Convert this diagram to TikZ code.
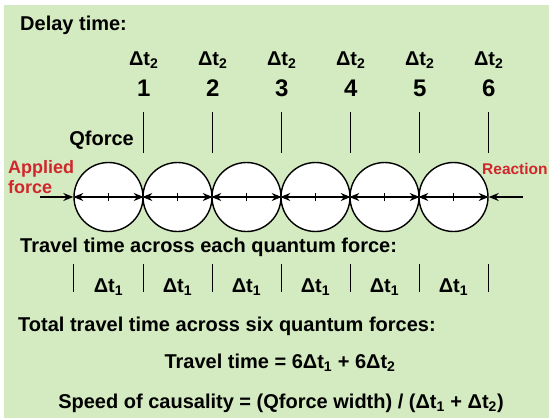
\documentclass[tikz,border=0pt]{standalone}
\usepackage{fontspec}
\setmainfont{Liberation Sans}
\usetikzlibrary{arrows.meta}

\definecolor{bggreen}{RGB}{212,234,192}
\definecolor{forcered}{RGB}{208,38,44}
\newcommand{\dlt}[1]{Δt\textsubscript{#1}}

\begin{document}
\begin{tikzpicture}[
    x=1pt, y=-1pt,
    qf/.style={draw, circle, line width=1.4pt, fill=white, minimum size=69pt, inner sep=0pt},
    arr/.style={->, >={Stealth[length=10pt, width=8pt]}, line width=1.3pt},
    bar/.style={line width=1.1pt},
    lbl/.style={font=\bfseries\fontsize{20}{23}\selectfont, inner sep=0pt},
    dlbl/.style={font=\bfseries\fontsize{20}{23}\selectfont, inner sep=0pt},
    num/.style={font=\bfseries\fontsize{24}{27}\selectfont, inner sep=0pt},
    redlbl/.style={font=\bfseries\fontsize{18}{20}\selectfont, text=forcered, align=left, inner sep=0pt},
]

\useasboundingbox (0,0) rectangle (552,418);
\fill[bggreen] (4,5) rectangle (549,418);

\node[lbl, anchor=west] (delay) at (20,25) {Delay time:};

% the six quantum forces
\foreach \i in {1,...,6}
    \node[qf] (q\i) at (39.5+69*\i,197) {};

\foreach \i in {1,...,6} {
    \draw[arr, <->] (q\i.west) -- (q\i.east);
    \draw[bar] ([yshift=-4pt]q\i.center) -- ([yshift=4pt]q\i.center);
}

% delay marks on top
\foreach \i in {1,...,6} {
    \draw[bar] (q\i.east |- 0,112) -- (q\i.east |- 0,153);
    \node[num]  (n\i) at (q\i.east |- 0,88) {\i};
    \node[dlbl] (d\i) at (q\i.east |- 0,60) {\dlt{2}};
}

\node[lbl, anchor=east] (qforce) at (134,140) {Qforce};

% applied force and reaction
\node[redlbl, anchor=base west] (applied)  at (8,193)   {Applied\\force};
\node[redlbl, anchor=base west, font=\bfseries\fontsize{15.5}{18}\selectfont] (reaction) at (482,174) {Reaction};
\coordinate (push)  at (40,197);
\coordinate (react) at (523,197);
\draw[arr] (push)  -- (q1.west);
\draw[arr] (react) -- (q6.east);

% travel time across each one
\node[lbl, anchor=west] (travel) at (20,247) {Travel time across each quantum force:};
\draw[bar] (q1.west |- 0,264) -- (q1.west |- 0,292);
\foreach \i in {1,...,6} {
    \draw[bar] (q\i.east |- 0,264) -- (q\i.east |- 0,292);
    \node[dlbl] (t\i) at (q\i |- 0,287) {\dlt{1}};
}

\node[lbl, anchor=west] (total) at (18,326) {Total travel time across six quantum forces:};
\node[lbl] (sum)   at (280,363) {Travel time = 6\dlt{1} + 6\dlt{2}};
\node[lbl] (speed) at (281,403) {Speed of causality = (Qforce width) / (\dlt{1} + \dlt{2})};

\end{tikzpicture}
\end{document}
